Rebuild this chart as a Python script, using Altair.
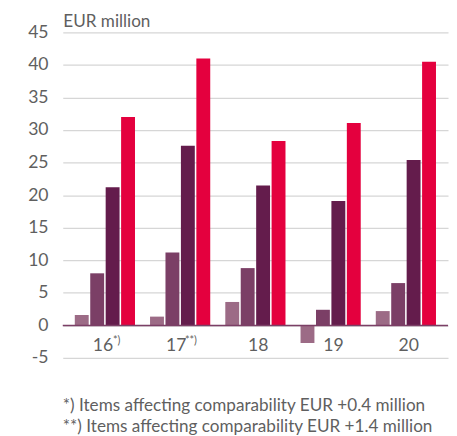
import altair as alt
import pandas as pd

years = ["16", "17", "18", "19", "20"]
series = ["S1", "S2", "S3", "S4"]
s1 = [1.6, 1.35, 3.6, -2.7, 2.2]
s2 = [8.0, 11.2, 8.8, 2.4, 6.5]
s3 = [21.2, 27.6, 21.5, 19.1, 25.4]
s4 = [32.0, 41.0, 28.3, 31.1, 40.5]
colors = ["#9c6b86", "#7b3f66", "#641c4c", "#e4003e"]
sups = ["*)", "**)", "", "", ""]
ticks = [-5, 0, 5, 10, 15, 20, 25, 30, 35, 40, 45]
footnotes = ["*) Items affecting comparability EUR +0.4 million",
             "**) Items affecting comparability EUR +1.4 million"]

rows = []
for name, vals in zip(series, [s1, s2, s3, s4]):
    for y, v in zip(years, vals):
        rows.append({"year": y, "series": name, "value": v})
df = pd.DataFrame(rows)
lab = pd.DataFrame({"year": years, "sup": sups})
zero_df = pd.DataFrame({"zero": [0]})

FONT = "Lato"
GRAY = "#5f5f5f"
W, H = 394, 333

xenc = alt.X("year:N", sort=years, axis=None,
             scale=alt.Scale(paddingInner=0.2, paddingOuter=0.16))
yscale = alt.Scale(domain=[-5, 45], nice=False)

bars = alt.Chart(df).mark_bar().encode(
    x=xenc,
    xOffset=alt.XOffset("series:N", sort=series, scale=alt.Scale(paddingInner=0.1)),
    y=alt.Y("value:Q", scale=yscale,
            axis=alt.Axis(values=ticks, title="EUR million",
                          labelExpr="replace(datum.label, '\u2212', '-')",
                          labelOverlap=False, labelBound=False,
                          titleAngle=0, titleAlign="left", titleX=0, titleY=-11,
                          titleBaseline="middle", titleFont=FONT, titleFontSize=17.5,
                          titleFontWeight="normal", titleColor=GRAY,
                          labelFont=FONT, labelFontSize=18, labelColor=GRAY,
                          labelPadding=15, domain=False, ticks=False,
                          grid=True, gridColor="#d6d6d6", gridWidth=1.3)),
    color=alt.Color("series:N", sort=series,
                    scale=alt.Scale(domain=series, range=colors), legend=None),
)

zero = alt.Chart(zero_df).mark_rule(color="#7b3f66", strokeWidth=1.6).encode(
    y=alt.Y("zero:Q", scale=yscale, axis=None))

YL = 321
lab_a = alt.Chart(lab[lab["year"].isin(["18", "19", "20"])]).mark_text(
    font=FONT, fontSize=18, color=GRAY, baseline="middle", dx=3).encode(
    x=xenc, y=alt.value(YL), text="year:N")
lab_16 = alt.Chart(lab[lab["year"] == "16"]).mark_text(
    font=FONT, fontSize=18, color=GRAY, baseline="middle", dx=-2).encode(
    x=xenc, y=alt.value(YL), text="year:N")
lab_17 = alt.Chart(lab[lab["year"] == "17"]).mark_text(
    font=FONT, fontSize=18, color=GRAY, baseline="middle", dx=-4).encode(
    x=xenc, y=alt.value(YL), text="year:N")
sup_16 = alt.Chart(lab[lab["year"] == "16"]).mark_text(
    font=FONT, fontSize=11, color=GRAY, baseline="middle", dx=12).encode(
    x=xenc, y=alt.value(YL - 5), text="sup:N")
sup_17 = alt.Chart(lab[lab["year"] == "17"]).mark_text(
    font=FONT, fontSize=11, color=GRAY, baseline="middle", dx=11).encode(
    x=xenc, y=alt.value(YL - 5), text="sup:N")

chart = alt.layer(bars, zero, lab_a, lab_16, lab_17, sup_16, sup_17).resolve_axis(
    y="independent"
).properties(
    width=W, height=H,
    title=alt.Title(footnotes, orient="bottom", anchor="start", frame="group",
                    font=FONT, fontSize=17.5, fontWeight="normal", color=GRAY,
                    lineHeight=22, offset=31),
    padding={"left": 20, "top": 0, "right": 0, "bottom": 0},
).configure_view(stroke=None)

chart.save("out.html", embed_options={"renderer": "svg", "actions": False})
